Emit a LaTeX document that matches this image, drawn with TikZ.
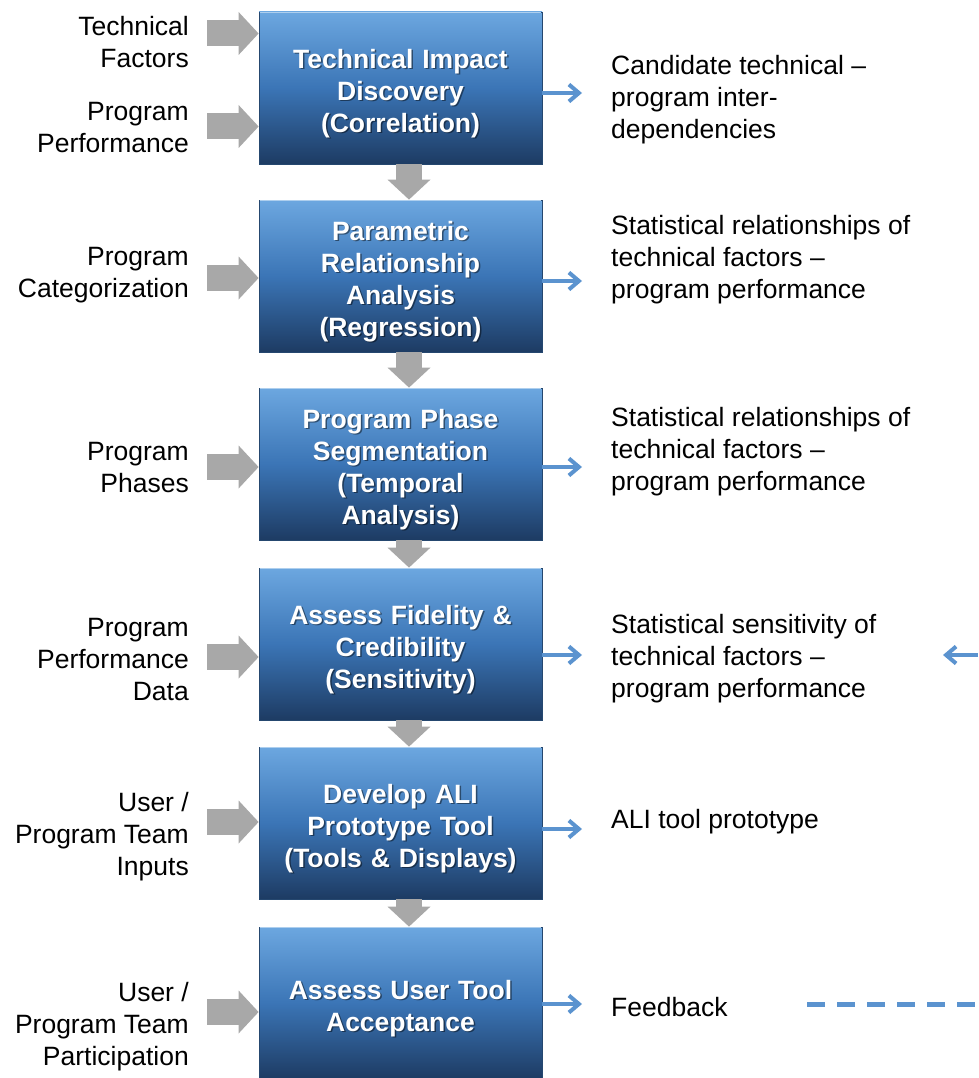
\documentclass[tikz,border=0pt]{standalone}
\usepackage{fontspec}
\setmainfont{Liberation Sans}
\usetikzlibrary{arrows.meta}

\definecolor{boxtop}{HTML}{6CA7E0}
\definecolor{boxmid}{HTML}{3B75B6}
\definecolor{boxbottom}{HTML}{1D3B63}
\definecolor{boxedge}{HTML}{25476F}
\definecolor{feedgray}{HTML}{A8A8A8}
\definecolor{outblue}{HTML}{5B93CF}

\tikzset{
  stage/.style={minimum width=283pt, minimum height=152pt, inner sep=0pt,
    top color=boxtop, bottom color=boxbottom, middle color=boxmid, draw=boxedge, line width=0.8pt},
  stagetext/.style={inner sep=0pt, text width=276pt, align=center, text=white,
    font=\fontsize{26.5pt}{32pt}\selectfont\bfseries},
  stageshadow/.style={stagetext, text=black, text opacity=0.45},
  intext/.style={anchor=east, align=right, inner sep=0pt, font=\fontsize{26.5pt}{32pt}\selectfont},
  outtext/.style={anchor=west, align=left, inner sep=0pt, font=\fontsize{26.5pt}{32pt}\selectfont},
  feedin/.style={line width=26pt, feedgray, -{Triangle[width=43pt, length=20pt, line width=0pt]}},
  outarrow/.style={line width=4pt, outblue, -{Straight Barb[length=10pt, width=17pt]}},
  fbdash/.style={line width=5pt, outblue, dash pattern=on 18pt off 12pt}
}

\begin{document}
\begin{tikzpicture}[x=1pt, y=-1pt]
\useasboundingbox (0,0) rectangle (978,1078);

\foreach \i/\y/\txt in {1/88/{Technical Impact\\Discovery\\(Correlation)},
    2/276/{Parametric\\Relationship\\Analysis\\(Regression)},
    3/464/{Program Phase\\Segmentation\\(Temporal\\Analysis)},
    4/644/{Assess Fidelity \&\\Credibility\\(Sensitivity)},
    5/823/{Develop ALI\\Prototype Tool\\(Tools \& Displays)},
    6/1003/{Assess User Tool\\Acceptance}} {
\node [stage] (s\i) at (400.5, \y) {};
\draw [white!45!boxtop, line width=1.5pt] ([xshift=1pt, yshift=-1pt]s\i.north west) -- ([xshift=-1pt, yshift=-1pt]s\i.north east);
\node [stageshadow] (h\i) at ([xshift=1.5pt, yshift=-7pt]s\i.center) {\txt};
\node [stagetext] (t\i) at ([yshift=-5.5pt]s\i.center) {\txt};
}

\node [intext] (i1) at (189, 42) {Technical\\Factors};
\node [intext] (i2) at (189, 127.5) {Program\\Performance};
\node [intext] (i3) at (189, 275) {Program\\Categorization};
\node [intext] (i4) at (189, 468) {Program\\Phases};
\node [intext] (i5) at (189, 659.5) {Program\\Performance\\Data};
\node [intext] (i6) at (189, 837) {User /\\Program Team\\Inputs};
\node [intext] (i7) at (189, 1026.5) {User /\\Program Team\\Participation};

\node [outtext] (o1) at (611, 100) {Candidate technical –\\program inter-\\dependencies};
\node [outtext] (o2) at (611, 259.5) {Statistical relationships of\\technical factors –\\program performance};
\node [outtext] (o3) at (611, 451.5) {Statistical relationships of\\technical factors –\\program performance};
\node [outtext] (o4) at (611, 658.5) {Statistical sensitivity of\\technical factors –\\program performance};
\node [outtext] (o5) at (611, 822) {ALI tool prototype};
\node [outtext] (o6) at (611, 1007) {Feedback};

\foreach \k/\s/\y in {1/1/33.5, 2/1/126.5, 3/2/278, 4/3/467, 5/4/657, 6/5/822, 7/6/1012} {
\draw [feedin, shorten <=18pt] (i\k.east |- 0,\y) -- (s\s.west |- 0,\y);
}

\foreach \i/\j in {1/2, 2/3, 3/4, 4/5, 5/6} {
\draw [feedin] (s\i.south -| 409,0) -- (s\j.north -| 409,0);
}

\foreach \i/\y in {1/93, 2/281, 3/467, 4/655, 5/829, 6/1004} {
\draw [outarrow, shorten >=29pt] (s\i.east |- 0,\y) -- (o\i.west |- 0,\y);
}

\coordinate (fbstart) at (807, 1004);
\coordinate (fbout) at (978, 1004);
\coordinate (fbin) at (978, 655);
\coordinate (fbtip) at (943, 655);
\draw [fbdash] (fbstart) -- (fbout);
\draw [outarrow] (fbin) -- (fbtip);

\end{tikzpicture}
\end{document}
